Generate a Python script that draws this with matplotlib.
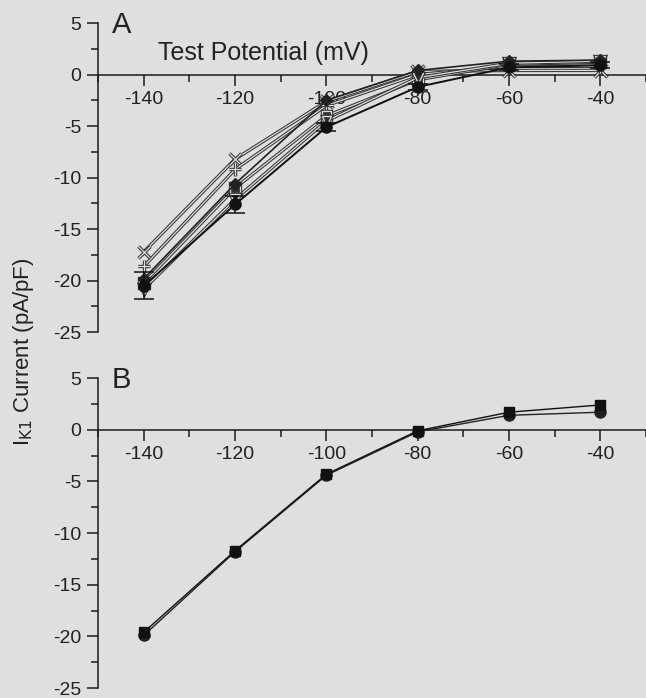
import matplotlib

matplotlib.use("Agg")
import matplotlib.pyplot as plt
import matplotlib.patheffects as pe
from matplotlib.ticker import MultipleLocator

BG = "#dedfdf"
INK = "#1a1a1a"

# test potentials (mV)
potentials = [-140, -120, -100, -80, -60, -40]

# panel A: individual cells (pA/pF)
a_cross = [-17.2, -8.2, -2.6, 0.3, 0.4, 0.4]
a_plus = [-18.6, -9.2, -3.0, 0.0, 0.8, 0.8]
a_circle = [-20.5, -12.6, -5.1, -1.2, 0.7, 0.9]
a_square = [-20.2, -11.0, -4.0, -0.5, 1.0, 1.2]
a_diamond = [-19.8, -10.6, -2.5, 0.4, 1.3, 1.4]
a_triangle = [-20.8, -12.1, -4.5, -0.3, 1.1, 1.3]
a_err = [1.3, 0.8, 0.4, 0.3, 0.3, 0.3]

# panel B: mean curves (pA/pF)
b_square = [-19.6, -11.7, -4.3, -0.1, 1.7, 2.4]
b_circle = [-19.9, -11.8, -4.4, -0.2, 1.4, 1.7]

y_ticks = [5, 0, -5, -10, -15, -20, -25]
x_ticks = [-140, -120, -100, -80, -60, -40]

plt.rcParams["font.family"] = ["Liberation Sans", "DejaVu Sans"]
plt.rcParams["axes.unicode_minus"] = False

hollow = [pe.Stroke(linewidth=2.4, foreground="#333333"), pe.Stroke(linewidth=0.9, foreground=BG)]


def style_axes(ax):
    ax.set_facecolor(BG)
    ax.set_xlim(-150, -30)
    ax.set_ylim(-25, 5)
    ax.spines["top"].set_visible(False)
    ax.spines["right"].set_visible(False)
    ax.spines["bottom"].set_position(("data", 0))
    ax.spines["left"].set_color(INK)
    ax.spines["bottom"].set_color(INK)
    ax.spines["left"].set_linewidth(1.1)
    ax.spines["bottom"].set_linewidth(1.1)
    ax.set_xticks(x_ticks)
    ax.set_yticks(y_ticks)
    ax.xaxis.set_minor_locator(MultipleLocator(10))
    ax.yaxis.set_minor_locator(MultipleLocator(2.5))
    ax.tick_params(axis="both", which="major", length=8, width=1.1, color=INK, labelsize=14, labelcolor="#222222")
    ax.tick_params(axis="both", which="minor", length=5, width=1.1, color=INK)
    ax.tick_params(axis="x", which="both", direction="out", pad=4)
    ax.tick_params(axis="y", which="both", direction="out", pad=4)


fig = plt.figure(figsize=(6.46, 6.98), dpi=100)
fig.patch.set_facecolor(BG)
ax_a = fig.add_axes([0.152, 0.524, 0.848, 0.443])
ax_b = fig.add_axes([0.152, 0.0143, 0.848, 0.444])

style_axes(ax_a)
style_axes(ax_b)

# panel A
ax_a.plot(potentials, a_cross, color="#333333", lw=0.9, marker="x", ms=9, mew=1.0, mfc="none", path_effects=hollow, zorder=3)
ax_a.plot(potentials, a_plus, color="#333333", lw=0.9, marker="+", ms=9, mew=1.0, path_effects=hollow, zorder=3)
ax_a.plot(potentials, a_square, color="#333333", lw=0.9, marker="s", ms=7, path_effects=hollow, zorder=3)
ax_a.plot(potentials, a_diamond, color="#222222", lw=1.2, marker="D", ms=6, zorder=4)
ax_a.plot(potentials, a_triangle, color="#333333", lw=0.9, marker="v", ms=7, path_effects=hollow, zorder=3)
ax_a.errorbar(potentials, a_circle, yerr=a_err, color="#111111", lw=1.4, marker="o", ms=8,
              capsize=7, elinewidth=1.1, capthick=1.1, zorder=5)
ax_a.text(-137, 2.1, "Test Potential (mV)", fontsize=18, color="#222222", va="center", ha="left")
ax_a.text(-147, 6.2, "A", fontsize=21, color="#222222", va="top", ha="left")

# panel B
ax_b.plot(potentials, b_circle, color="#222222", lw=1.0, marker="o", ms=8, zorder=3)
ax_b.plot(potentials, b_square, color="#111111", lw=1.0, marker="s", ms=7, zorder=4)
ax_b.text(-147, 6.2, "B", fontsize=21, color="#222222", va="top", ha="left")

fig.text(0.036, 0.496, "I$_{\\mathrm{K1}}$ Current (pA/pF)", rotation=90, fontsize=16,
         color="#222222", ha="center", va="center")

fig.savefig("out.png", dpi=100, facecolor=BG)
